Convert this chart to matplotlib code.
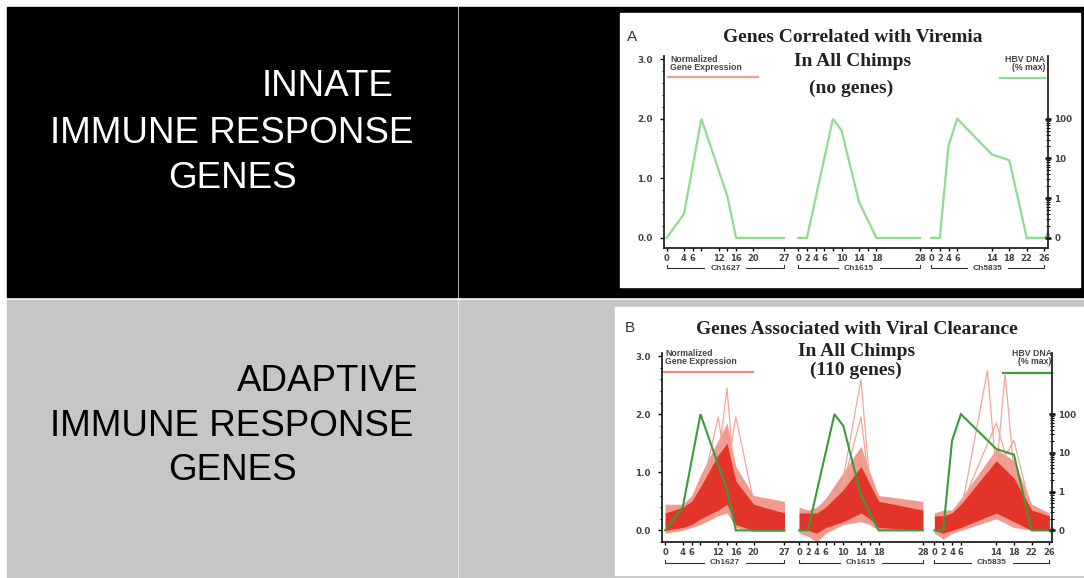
import numpy as np
import matplotlib.pyplot as plt
from matplotlib.patches import Rectangle
from matplotlib.ticker import FixedLocator, MultipleLocator

W, H = 1084, 578

# x layout: the three chimps share one axis, each segment starts at an offset
chimps = ['Ch1627', 'Ch1615', 'Ch5835']
seg_offset = [0, 30.3, 60.9]
seg_length = [27, 28, 26]

ticks_1627 = [0, 4, 6, 8, 12, 14, 16, 20, 27]
ticks_1615 = [0, 2, 4, 6, 8, 10, 14, 16, 18, 28]
ticks_5835 = [0, 2, 4, 6, 14, 18, 22, 26]
labels_1627 = [0, 4, 6, 12, 16, 20, 27]
labels_1615 = [0, 2, 4, 6, 10, 14, 18, 28]
labels_5835 = [0, 2, 4, 6, 14, 18, 22, 26]

# HBV DNA (% of max), 0 = undetectable
hbv_days_1627 = [0, 4, 8, 14, 16, 20, 27]
hbv_1627 = [0, 0.4, 100, 1.1, 0, 0, 0]
hbv_days_1615 = [0, 2, 8, 10, 14, 18, 28]
hbv_1615 = [0, 0, 100, 50, 0.8, 0, 0]
hbv_days_5835 = [0, 2, 4, 6, 14, 18, 22, 26]
hbv_5835 = [0, 0, 21, 100, 12.6, 9, 0, 0]

# normalized gene expression, 110 genes: dense core and outer envelope
expr_days_1627 = [0, 4, 6, 8, 12, 14, 16, 20, 27]
core_lo_1627 = [0.0, 0.05, 0.1, 0.2, 0.35, 0.45, 0.1, 0.0, 0.0]
core_hi_1627 = [0.3, 0.4, 0.5, 0.75, 1.3, 1.5, 0.85, 0.45, 0.3]
outer_lo_1627 = [-0.05, 0.0, 0.05, 0.1, 0.25, 0.3, 0.05, -0.02, -0.02]
outer_hi_1627 = [0.45, 0.45, 0.6, 0.95, 1.55, 1.85, 1.1, 0.6, 0.5]

expr_days_1615 = [0, 2, 4, 6, 10, 14, 16, 18, 28]
core_lo_1615 = [0.0, 0.0, -0.05, 0.05, 0.15, 0.3, 0.2, 0.05, 0.0]
core_hi_1615 = [0.3, 0.3, 0.3, 0.4, 0.7, 1.1, 0.8, 0.5, 0.35]
outer_lo_1615 = [-0.05, -0.1, -0.2, -0.05, 0.1, 0.15, 0.1, 0.0, 0.0]
outer_hi_1615 = [0.4, 0.35, 0.4, 0.55, 1.0, 1.45, 1.0, 0.6, 0.5]

expr_days_5835 = [0, 2, 4, 6, 14, 18, 22, 26]
core_lo_5835 = [0.0, -0.05, 0.0, 0.05, 0.3, 0.15, 0.0, 0.0]
core_hi_5835 = [0.25, 0.25, 0.3, 0.45, 1.2, 0.9, 0.35, 0.25]
outer_lo_5835 = [-0.05, -0.15, -0.05, 0.0, 0.2, 0.05, 0.0, 0.0]
outer_hi_5835 = [0.3, 0.35, 0.35, 0.55, 1.4, 1.2, 0.45, 0.3]

# single genes standing out of the band (days, values)
spikes_1627 = [([8, 12, 14], [0.6, 1.95, 1.0]),
               ([12, 14, 16], [1.2, 2.45, 0.6]),
               ([14, 16, 20], [1.0, 1.95, 0.5])]
spikes_1615 = [([10, 14, 16], [0.9, 2.6, 0.8]),
               ([10, 14, 16], [0.8, 1.95, 0.7])]
spikes_5835 = [([6, 12, 14], [0.3, 2.75, 1.0]),
               ([14, 16, 18], [1.0, 2.7, 1.0]),
               ([6, 14, 18], [0.4, 1.85, 0.8]),
               ([14, 18, 22], [1.0, 1.55, 0.3])]

fig = plt.figure(figsize=(W / 100, H / 100), dpi=100)
fig.patch.set_facecolor('white')

bg = fig.add_axes([0, 0, 1, 1])
bg.set_xlim(0, W)
bg.set_ylim(H, 0)
bg.axis('off')

# table cells
bg.add_patch(Rectangle((7, 7), 450, 290, color='black'))
bg.add_patch(Rectangle((459, 7), 625, 290, color='black'))
bg.add_patch(Rectangle((7, 300), 450, 278, color='#c6c6c6'))
bg.add_patch(Rectangle((459, 300), 625, 278, color='#c6c6c6'))
bg.add_patch(Rectangle((620, 13), 460, 274, color='white'))
bg.add_patch(Rectangle((615, 307), 469, 268, color='white'))

slide_font = dict(family='Liberation Sans', fontsize=26.5, va='baseline')
bg.text(328, 96, 'INNATE', color='white', ha='center', **slide_font)
bg.text(232, 143, 'IMMUNE RESPONSE', color='white', ha='center', **slide_font)
bg.text(232, 188, 'GENES', color='white', ha='center', **slide_font)
bg.text(328, 391, 'ADAPTIVE', color='black', ha='center', **slide_font)
bg.text(232, 436, 'IMMUNE RESPONSE', color='black', ha='center', **slide_font)
bg.text(232, 480, 'GENES', color='black', ha='center', **slide_font)

title_font = dict(family='Liberation Serif', fontsize=14, fontweight='bold',
                  color='#222222', ha='center', va='center')
small_font = dict(family='Liberation Sans', fontsize=6.3, fontweight='bold',
                  color='#444444', va='center')

bg.text(632, 37, 'A', family='Liberation Sans', fontsize=11, color='#333333',
        ha='center', va='center')
bg.text(853, 37, 'Genes Correlated with Viremia', **title_font)
bg.text(853, 62, 'In All Chimps', **title_font)
bg.text(851, 88, '(no genes)', **title_font)

bg.text(630, 328, 'B', family='Liberation Sans', fontsize=11, color='#333333',
        ha='center', va='center')
bg.text(857, 330, 'Genes Associated with Viral Clearance', **title_font)
bg.text(857, 351, 'In All Chimps', **title_font)
bg.text(856, 370, '(110 genes)', **title_font)

# legend blocks
for (lx, ly, rx, gx0, red_col, green_col) in [(670, 59, 1045, 1000, '#f2a090', '#90dc90'),
                                               (665, 354, 1052, 1003, '#ef8a80', '#3c9a3c')]:
    bg.text(lx, ly, 'Normalized', ha='left', **small_font)
    bg.text(lx, ly + 8, 'Gene Expression', ha='left', **small_font)
    bg.plot([lx - 2, lx + 88], [ly + 18, ly + 18], color=red_col, lw=1.6)
    bg.text(rx, ly, 'HBV DNA', ha='right', **small_font)
    bg.text(rx, ly + 8, '(% max)', ha='right', **small_font)
    bg.plot([gx0, rx], [ly + 19, ly + 19], color=green_col, lw=1.6)


def px_rect(left, top, right, bottom):
    return [left / W, (H - bottom) / H, (right - left) / W, (bottom - top) / H]


def to_hbv_axis(y):
    return 10 ** (1.5 * y - 1)


def setup_axes(ax, ylim, xlim, bracket_y):
    ax.set_facecolor('none')
    ax.set_xlim(*xlim)
    ax.set_ylim(*ylim)
    for s in ['top', 'right']:
        ax.spines[s].set_visible(False)
    ax.spines['left'].set_bounds(ylim[0], 3.05)
    for s in ['left', 'bottom']:
        ax.spines[s].set_linewidth(1.3)
        ax.spines[s].set_color('#222222')
    ax.yaxis.set_major_locator(FixedLocator([0, 1, 2, 3]))
    ax.set_yticklabels(['0.0', '1.0', '2.0', '3.0'])
    ax.yaxis.set_minor_locator(MultipleLocator(0.2))
    ax.tick_params(axis='y', which='major', length=3, width=1, pad=5,
                   labelsize=6.3, labelcolor='#444444')
    ax.tick_params(axis='y', which='minor', length=1.8, width=0.7)

    xt, xl_pos, xl_txt = [], [], []
    for off, tks, lbs in zip(seg_offset, [ticks_1627, ticks_1615, ticks_5835],
                             [labels_1627, labels_1615, labels_5835]):
        xt += [off + d for d in tks]
        xl_pos += [off + d for d in lbs]
        xl_txt += [str(d) for d in lbs]
    ax.set_xticks(xt, minor=True)
    ax.set_xticks(xl_pos)
    ax.set_xticklabels(xl_txt)
    ax.tick_params(axis='x', which='both', length=2.5, width=1, pad=2,
                   labelsize=6, labelcolor='#444444')
    for t in ax.get_xticklabels():
        t.set_fontweight('bold')
    for t in ax.get_yticklabels():
        t.set_fontweight('bold')

    tr = ax.get_xaxis_transform()
    for name, off, ln in zip(chimps, seg_offset, seg_length):
        x0, x1 = off, off + ln
        c = (x0 + x1) / 2
        g = 4.8
        ax.plot([x0, x0, c - g], [bracket_y + 0.015, bracket_y, bracket_y],
                transform=tr, color='#333333', lw=0.8, clip_on=False)
        ax.plot([c + g, x1, x1], [bracket_y, bracket_y, bracket_y + 0.015],
                transform=tr, color='#333333', lw=0.8, clip_on=False)
        ax.text(c, bracket_y, name, transform=tr, ha='center', va='center',
                fontsize=6, fontweight='bold', color='#444444',
                family='Liberation Sans')

    rax = ax.twinx()
    rax.set_yscale('log')
    for s in ['top', 'left', 'bottom']:
        rax.spines[s].set_visible(False)
    rax.spines['right'].set_bounds(to_hbv_axis(ylim[0]), to_hbv_axis(3.05))
    rax.spines['right'].set_linewidth(1.3)
    rax.spines['right'].set_color('#222222')
    rax.text(1.0, 0.07, '\u2248', transform=rax.transAxes, rotation=70,
             ha='center', va='center', fontsize=7, color='#333333')
    return rax


def finish_right_axis(rax, ylim):
    rax.set_ylim(to_hbv_axis(ylim[0]), to_hbv_axis(ylim[1]))
    rax.yaxis.set_major_locator(FixedLocator([0.1, 1, 10, 100]))
    rax.set_yticklabels(['0', '1', '10', '100'])
    minor = [k * 10.0 ** e for e in (-1, 0, 1) for k in range(2, 10)]
    rax.yaxis.set_minor_locator(FixedLocator(minor))
    rax.tick_params(axis='y', which='major', direction='inout', length=5, width=1.8,
                    pad=2, labelsize=6.3, labelcolor='#444444')
    rax.tick_params(axis='y', which='minor', direction='inout', length=3, width=0.8)
    for t in rax.get_yticklabels():
        t.set_fontweight('bold')


def draw_hbv(rax, color, lw):
    for off, days, vals in zip(seg_offset, [hbv_days_1627, hbv_days_1615, hbv_days_5835],
                               [hbv_1627, hbv_1615, hbv_5835]):
        v = np.maximum(np.array(vals, dtype=float), 0.1)
        rax.plot(np.array(days) + off, v, color=color, lw=lw, solid_joinstyle='miter')


# ---- panel A ----
ylimA = (-0.17, 3.07)
axA = fig.add_axes(px_rect(664, 55, 1048, 248))
raxA = setup_axes(axA, ylimA, (-0.6, 87.8), -0.104)
draw_hbv(raxA, '#8fdc8f', 1.6)
finish_right_axis(raxA, ylimA)

# ---- panel B ----
ylimB = (-0.2, 3.07)
axB = fig.add_axes(px_rect(662, 352, 1052, 542))
raxB = setup_axes(axB, ylimB, (-0.7, 87.5), -0.11)

for off, days, clo, chi, olo, ohi, spikes in [
        (seg_offset[0], expr_days_1627, core_lo_1627, core_hi_1627, outer_lo_1627, outer_hi_1627, spikes_1627),
        (seg_offset[1], expr_days_1615, core_lo_1615, core_hi_1615, outer_lo_1615, outer_hi_1615, spikes_1615),
        (seg_offset[2], expr_days_5835, core_lo_5835, core_hi_5835, outer_lo_5835, outer_hi_5835, spikes_5835)]:
    x = np.array(days) + off
    axB.fill_between(x, olo, ohi, color='#f19a90', lw=0, zorder=2)
    axB.fill_between(x, clo, chi, color='#e3342a', lw=0, zorder=3)
    for sd, sv in spikes:
        axB.plot(np.array(sd) + off, sv, color='#f3a59c', lw=0.9, zorder=2)
axB.set_ylim(*ylimB)
axB.set_xlim(-0.7, 87.5)

draw_hbv(raxB, '#3c9a3c', 1.5)
finish_right_axis(raxB, ylimB)

fig.savefig('out.png', dpi=100)
